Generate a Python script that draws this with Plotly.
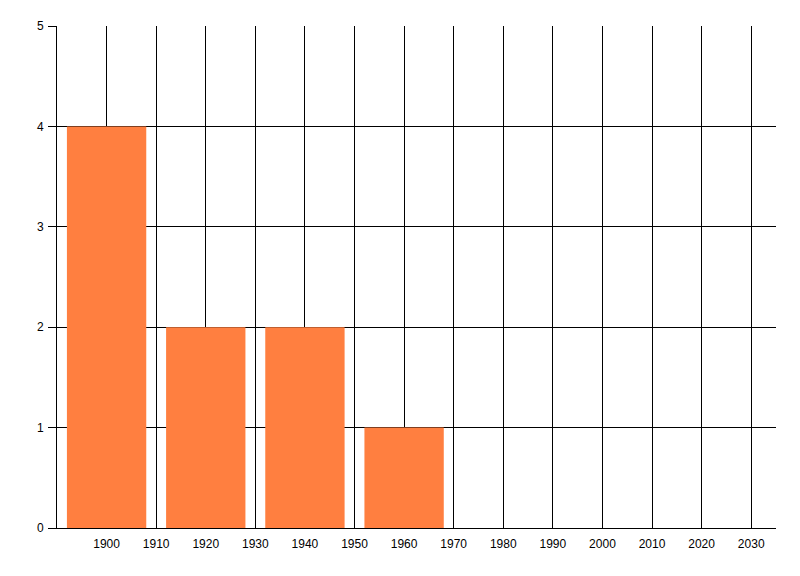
import plotly.graph_objects as go

years = [1900, 1920, 1940, 1960]
counts = [4, 2, 2, 1]
x_ticks = list(range(1900, 2031, 10))
y_ticks = [0, 1, 2, 3, 4, 5]

fig = go.Figure()
fig.add_trace(go.Bar(
    x=years, y=counts, width=16,
    marker=dict(color="#FF7F40", line=dict(width=0)),
))

# page has 8px default body margin, so margins are offset accordingly
fig.update_layout(
    width=800, height=576,
    margin=dict(l=49, r=32, t=18, b=56),
    paper_bgcolor="white", plot_bgcolor="white",
    showlegend=False,
    font=dict(family="Liberation Sans, Arial, sans-serif", size=12, color="black"),
)
fig.update_xaxes(
    range=[1890, 2035], tickvals=x_ticks, ticktext=[str(v) for v in x_ticks],
    showgrid=True, gridcolor="black", gridwidth=1,
    showline=True, linecolor="black", linewidth=1,
    ticks="", zeroline=False, ticklabelstandoff=5,
)
fig.update_yaxes(
    range=[0, 5], tickvals=y_ticks,
    showgrid=True, gridcolor="black", gridwidth=1,
    showline=True, linecolor="black", linewidth=1,
    ticks="outside", ticklen=8, tickcolor="black", zeroline=False,
    ticklabelstandoff=2,
)
fig.write_html("out.html")
